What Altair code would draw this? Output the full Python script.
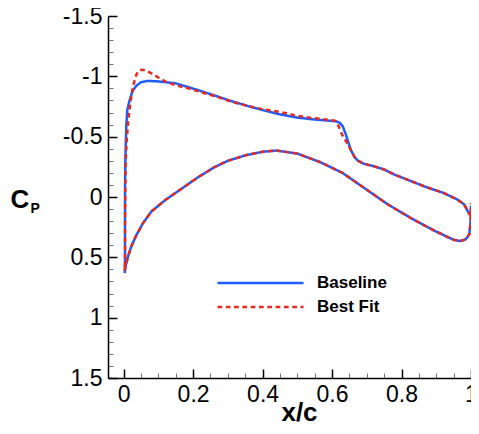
import altair as alt
import pandas as pd

# ---------------- data ----------------
series_names = ["Baseline", "Best Fit"]
series_colors = ["#1f5cff", "#e8291c"]
series_dashes = [[1, 0], [4.7, 3.6]]

# Baseline, upper surface (leading edge -> trailing edge)
base_upper_x = [0.004, 0.004, 0.004, 0.005, 0.0075, 0.0105, 0.017, 0.026, 0.036, 0.05, 0.07,
                0.10, 0.15, 0.215, 0.26, 0.31, 0.36, 0.40, 0.45, 0.50, 0.54, 0.58, 0.612,
                0.622, 0.631, 0.64, 0.654, 0.665, 0.675, 0.692, 0.72, 0.75, 0.78, 0.82, 0.87,
                0.92, 0.96, 0.98, 0.993, 1.0]
base_upper_cp = [0.55, 0.25, -0.05, -0.31, -0.58, -0.72, -0.80, -0.88, -0.92, -0.952, -0.962,
                 -0.958, -0.942, -0.885, -0.843, -0.795, -0.752, -0.72, -0.685, -0.658, -0.645,
                 -0.635, -0.627, -0.615, -0.585, -0.515, -0.39, -0.33, -0.30, -0.275, -0.255,
                 -0.228, -0.185, -0.14, -0.083, -0.035, 0.02, 0.06, 0.13, 0.16]
# Baseline, lower surface (leading edge -> trailing edge)
base_lower_x = [0.003, 0.006, 0.012, 0.022, 0.036, 0.055, 0.08, 0.12, 0.17, 0.215, 0.26, 0.30,
                0.35, 0.40, 0.44, 0.50, 0.565, 0.63, 0.70, 0.76, 0.83, 0.895, 0.95, 0.97,
                0.985, 0.995, 0.999, 1.0]
base_lower_cp = [0.63, 0.57, 0.50, 0.41, 0.32, 0.22, 0.12, 0.025, -0.075, -0.165, -0.245,
                 -0.30, -0.345, -0.375, -0.385, -0.36, -0.29, -0.20, -0.06, 0.06, 0.18, 0.28,
                 0.355, 0.365, 0.35, 0.31, 0.20, 0.07]

# Best fit, upper surface (leading edge -> trailing edge)
fit_upper_x = [0.004, 0.004, 0.005, 0.006, 0.009, 0.013, 0.018, 0.024, 0.03, 0.036, 0.043,
               0.052, 0.064, 0.08, 0.10, 0.121, 0.15, 0.187, 0.215, 0.263, 0.31, 0.357, 0.40,
               0.45, 0.50, 0.55, 0.59, 0.608, 0.615, 0.622, 0.63, 0.645, 0.654, 0.665, 0.675,
               0.692, 0.72, 0.75, 0.78, 0.82, 0.87, 0.92, 0.96, 0.98, 0.993, 1.0]
fit_upper_cp = [0.53, 0.20, -0.10, -0.30, -0.48, -0.62, -0.75, -0.87, -0.95, -1.01, -1.045,
                -1.055, -1.048, -1.025, -0.99, -0.956, -0.925, -0.90, -0.875, -0.835, -0.79,
                -0.755, -0.728, -0.705, -0.672, -0.652, -0.64, -0.632, -0.61, -0.565, -0.51,
                -0.44, -0.39, -0.33, -0.30, -0.275, -0.255, -0.228, -0.185, -0.14, -0.083,
                -0.035, 0.02, 0.06, 0.13, 0.16]
# Best fit, lower surface (leading edge -> trailing edge)
fit_lower_x = [0.003, 0.006, 0.012, 0.022, 0.036, 0.055, 0.08, 0.12, 0.17, 0.215, 0.26, 0.30,
               0.35, 0.40, 0.44, 0.50, 0.565, 0.63, 0.70, 0.76, 0.83, 0.895, 0.95, 0.97,
               0.985, 0.995, 0.999, 1.0]
fit_lower_cp = [0.61, 0.56, 0.50, 0.41, 0.32, 0.22, 0.12, 0.025, -0.075, -0.165, -0.245,
                -0.30, -0.345, -0.375, -0.385, -0.36, -0.29, -0.20, -0.06, 0.06, 0.18, 0.28,
                0.355, 0.365, 0.35, 0.31, 0.20, 0.05]

x_major = [0, 0.2, 0.4, 0.6, 0.8, 1]
x_minor = [0.05, 0.1, 0.15, 0.25, 0.3, 0.35, 0.45, 0.5, 0.55, 0.65, 0.7, 0.75, 0.85, 0.9, 0.95]
y_major = [-1.5, -1, -0.5, 0, 0.5, 1, 1.5]
y_minor = [-1.4, -1.3, -1.2, -1.1, -0.9, -0.8, -0.7, -0.6, -0.4, -0.3, -0.2, -0.1,
           0.1, 0.2, 0.3, 0.4, 0.6, 0.7, 0.8, 0.9, 1.1, 1.2, 1.3, 1.4]

# ---------------- table: one closed path per series ----------------
rows = []
def add(name, ux, ucp, lx, lcp):
    px = list(reversed(ux)) + lx
    pc = list(reversed(ucp)) + lcp
    for i, (a, b) in enumerate(zip(px, pc)):
        rows.append({"series": name, "i": i, "x": a, "cp": b})

add("Baseline", base_upper_x, base_upper_cp, base_lower_x, base_lower_cp)
add("Best Fit", fit_upper_x, fit_upper_cp, fit_lower_x, fit_lower_cp)
df = pd.DataFrame(rows)

W, H = 363, 362
F = "Liberation Sans"

xs = alt.Scale(domain=[-0.045, 1.0], nice=False, zero=False)
ys = alt.Scale(domain=[-1.5, 1.5], reverse=True, nice=False, zero=False)

leg = alt.Legend(title=None, orient="none", legendX=108, legendY=257,
                 symbolType="stroke", symbolSize=86 * 86, symbolStrokeWidth=2.5,
                 labelFontSize=17, labelFontWeight="bold", labelFont=F, labelColor="black",
                 clipHeight=20, rowPadding=4, labelOffset=12, padding=0)

lines = alt.Chart(df).mark_line(strokeWidth=2.5).encode(
    x=alt.X("x:Q", scale=xs,
            axis=alt.Axis(orient="bottom", values=x_major, labelExpr="toString(datum.value)",
                          labelFont=F, labelFontSize=23, labelColor="black", labelPadding=5,
                          ticks=False, tickSize=0, grid=False, domainColor="black",
                          domainWidth=1.5, labelFlush=False, labelOverlap=False,
                          title="x/c", titleFont=F, titleFontSize=26, titleFontWeight="bold",
                          titleColor="black", titleX=191, titleY=42, titleAlign="center",
                          titleBaseline="alphabetic")),
    y=alt.Y("cp:Q", scale=ys,
            axis=alt.Axis(orient="left", values=y_major, labelExpr="toString(datum.value)",
                          labelFont=F, labelFontSize=23, labelColor="black", labelPadding=6,
                          ticks=False, tickSize=0, grid=False, domainColor="black",
                          domainWidth=1.5, labelFlush=False, labelOverlap=False,
                          title="C", titleFont=F, titleFontSize=26, titleFontWeight="bold",
                          titleColor="black", titleAngle=0, titleX=-98, titleY=191,
                          titleAlign="left", titleBaseline="alphabetic")),
    color=alt.Color("series:N", scale=alt.Scale(domain=series_names, range=series_colors),
                    legend=leg),
    strokeDash=alt.StrokeDash("series:N",
                              scale=alt.Scale(domain=series_names, range=series_dashes),
                              legend=leg),
    order=alt.Order("i:Q"),
)

major = alt.Chart(df).mark_point(opacity=0, size=1).encode(
    x=alt.X("x:Q", scale=xs,
            axis=alt.Axis(orient="top", offset=-H, values=x_major, labels=False, domain=False,
                          grid=False, tickSize=9, tickWidth=1.5, tickColor="black", title=None)),
    y=alt.Y("cp:Q", scale=ys,
            axis=alt.Axis(orient="right", offset=-W, values=y_major, labels=False, domain=False,
                          grid=False, tickSize=9, tickWidth=1.5, tickColor="black", title=None)),
)

minor = alt.Chart(df).mark_point(opacity=0, size=1).encode(
    x=alt.X("x:Q", scale=xs,
            axis=alt.Axis(orient="top", offset=-H, values=x_minor, labels=False, domain=False,
                          grid=False, tickSize=5, tickWidth=1, tickColor="#777", title=None)),
    y=alt.Y("cp:Q", scale=ys,
            axis=alt.Axis(orient="right", offset=-W, values=y_minor, labels=False, domain=False,
                          grid=False, tickSize=5, tickWidth=1, tickColor="#777",
                          title="P", titleFont=F, titleFontSize=14, titleFontWeight="bold",
                          titleColor="black", titleAngle=0, titleX=-78, titleY=196,
                          titleAlign="left", titleBaseline="alphabetic")),
)

chart = alt.layer(minor, major, lines).resolve_scale(
    x="independent", y="independent"
).properties(
    width=W, height=H,
    autosize=alt.AutoSizeParams(type="none"),
    padding={"left": 100, "top": 8, "right": 0, "bottom": 48},
).configure_view(stroke=None)

chart.save("out.html", embed_options={"renderer": "svg", "actions": False})
